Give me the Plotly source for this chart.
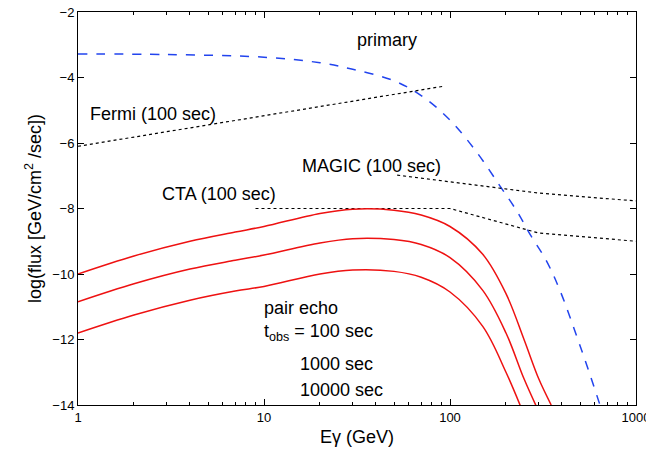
import math
import plotly.graph_objects as go

# Data (log10 flux vs E in GeV)
primary_e = [1, 3, 10, 20, 30, 50, 70, 100, 140, 185, 230, 270, 330, 390, 480, 560, 640]
primary_f = [-3.28, -3.3, -3.38, -3.55, -3.75, -4.1, -4.55, -5.3, -6.3, -7.3, -8.1, -8.8, -9.6, -10.5, -11.9, -13.0, -14.0]

fermi_e = [1, 94]
fermi_f = [-6.1, -4.26]
magic_e = [52, 300, 1000]
magic_f = [-6.98, -7.53, -7.77]
cta_e = [9, 100, 300, 1000]
cta_f = [-8.0, -8.0, -8.75, -9.0]

echo_e = [1, 2, 4, 7, 10, 20, 30, 50, 70, 100, 150, 200, 250, 300, 350]
echo_100 = [-10.0, -9.45, -9.0, -8.72, -8.55, -8.15, -8.02, -8.05, -8.2, -8.55, -9.4, -10.6, -12.0, -13.2, -14.0]
echo_1000 = [-10.85, -10.3, -9.85, -9.58, -9.42, -9.05, -8.92, -8.95, -9.1, -9.5, -10.5, -11.8, -13.2, -14.2, None]
echo_10000 = [-11.8, -11.25, -10.8, -10.52, -10.38, -10.0, -9.88, -9.92, -10.1, -10.55, -11.6, -13.0, -14.3, None, None]

fig = go.Figure()
fig.add_trace(go.Scatter(x=primary_e, y=primary_f, mode='lines', line=dict(color='#2244ee', width=1.5, dash='dash'), line_shape='spline'))
for e, f in [(fermi_e, fermi_f), (magic_e, magic_f), (cta_e, cta_f)]:
    fig.add_trace(go.Scatter(x=e, y=f, mode='lines', line=dict(color='black', width=1.2, dash='dot')))
for f in [echo_100, echo_1000, echo_10000]:
    fig.add_trace(go.Scatter(x=echo_e, y=f, mode='lines', line=dict(color='#ee1111', width=1.5), line_shape='spline'))

font = dict(family='Liberation Sans, Arial', size=18, color='black')
labels = [
    ('primary', 31, -2.85),
    ('Fermi (100 sec)', 1.13, -5.1),
    ('MAGIC (100 sec)', 15.6, -6.7),
    ('CTA (100 sec)', 2.76, -7.55),
    ('pair echo', 9.7, -11.05),
    ('t<sub>obs</sub> = 100 sec', 9.7, -11.8),
    ('1000 sec', 15.2, -12.75),
    ('10000 sec', 15.2, -13.55),
]
for t, x, y in labels:
    fig.add_annotation(x=math.log10(x), y=y, text=t, showarrow=False, xanchor='left', font=font)

axis = dict(showline=True, linecolor='black', linewidth=1, mirror='ticks', ticks='inside',
            ticklen=6, tickcolor='black', showgrid=False, zeroline=False, automargin=False,
            ticklabeloverflow='allow',
            tickfont=dict(family='Liberation Sans, Arial', size=13, color='black'))
fig.update_xaxes(type='log', range=[0, 3], tickvals=[1, 10, 100, 1000], ticktext=['1', '10', '100', '1000'],
                 minor=dict(ticks='inside', ticklen=3, tickcolor='black', dtick='D1'),
                 title=dict(text='Eγ (GeV)', font=font, standoff=6), **axis)
fig.update_yaxes(range=[-14, -2], dtick=2,
                 title=dict(text='log(flux [GeV/cm<sup>2</sup> /sec])', font=font, standoff=6), **axis)
# page body adds an 8px offset, so the figure is sized to fit the window
fig.update_layout(width=646, height=445, showlegend=False, plot_bgcolor='white', paper_bgcolor='white',
                  margin=dict(l=70, r=18, t=4, b=48))
fig.write_html("out.html")
